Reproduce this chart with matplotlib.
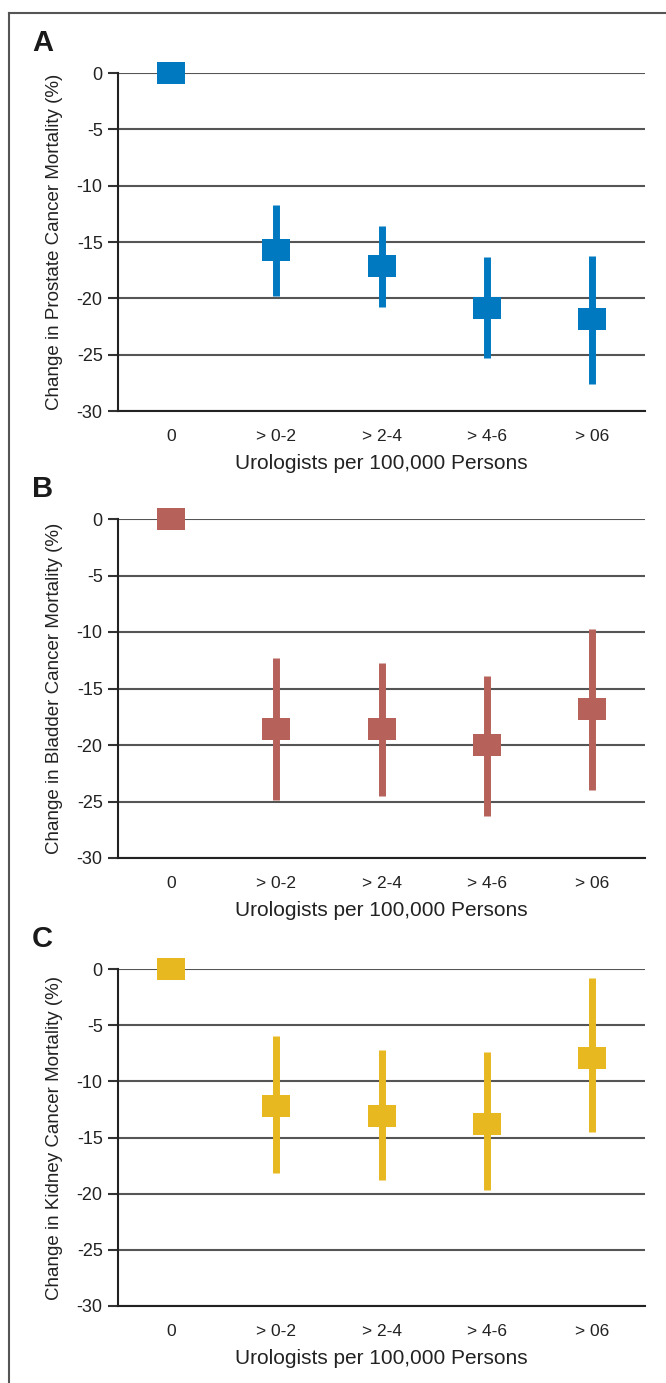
import numpy as np
import matplotlib
matplotlib.use('Agg')
import matplotlib.pyplot as plt
from matplotlib.lines import Line2D

plt.rcParams['font.family'] = ['Liberation Sans', 'DejaVu Sans']

# data
categories = ['0', '> 0-2', '> 2-4', '> 4-6', '> 06']

prostate_mean = [0, -15.75, -17.1, -20.9, -21.8]
prostate_lo = [0, -19.75, -20.8, -25.3, -27.6]
prostate_hi = [0, -11.7, -13.6, -16.3, -16.2]

bladder_mean = [0, -18.6, -18.6, -20.0, -16.85]
bladder_lo = [0, -24.9, -24.5, -26.3, -24.0]
bladder_hi = [0, -12.3, -12.7, -13.9, -9.7]

kidney_mean = [0, -12.2, -13.1, -13.8, -7.95]
kidney_lo = [0, -18.2, -18.75, -19.65, -14.5]
kidney_hi = [0, -6.0, -7.25, -7.4, -0.8]

panels = [
    ('A', 'Change in Prostate Cancer Mortality (%)', prostate_mean, prostate_lo, prostate_hi, '#0079C1'),
    ('B', 'Change in Bladder Cancer Mortality (%)', bladder_mean, bladder_lo, bladder_hi, '#B6625B'),
    ('C', 'Change in Kidney Cancer Mortality (%)', kidney_mean, kidney_lo, kidney_hi, '#E8B820'),
]

W, H = 666, 1383
fig = plt.figure(figsize=(W / 100, H / 100), dpi=100)

# axes pixel extents (0 line at top, -30 at bottom)
tops = [73, 519, 969]
bottoms = [411, 858, 1306]
left, right = 118, 645

rect = [(-1.33, -1), (1.33, -1), (1.33, 1), (-1.33, 1), (-1.33, -1)]
x = np.arange(len(categories))

for (letter, ylabel, mean, lo, hi, color), t, b in zip(panels, tops, bottoms):
    ax = fig.add_axes([left / W, 1 - b / H, (right - left) / W, (b - t) / H])
    ax.set_xlim(-0.5, len(categories) - 0.5)
    ax.set_ylim(-30, 0)
    ax.set_yticks(np.arange(-30, 1, 5))
    ax.set_yticklabels([str(v) for v in np.arange(-30, 1, 5)])
    ax.yaxis.grid(True, color='#555555', linewidth=1.5)
    ax.set_axisbelow(True)
    for s in ['top', 'right']:
        ax.spines[s].set_visible(False)
    for s in ['left', 'bottom']:
        ax.spines[s].set_linewidth(1.5)
        ax.spines[s].set_color('#222222')
    ax.tick_params(axis='y', length=7, width=1.5, color='#333333', labelsize=13, pad=4, labelcolor='#222222')
    ax.tick_params(axis='x', length=0, labelsize=12.5, pad=13, labelcolor='#222222')
    ax.set_xticks(x)
    ax.set_xticklabels(categories)

    # whiskers
    for xi, l, h in zip(x, lo, hi):
        if h != l:
            ax.vlines(xi, l, h, color=color, linewidth=5, capstyle='butt', zorder=3)
    ax.plot(x, mean, linestyle='none', marker=rect, markersize=20.2,
            markerfacecolor=color, markeredgewidth=0, clip_on=False, zorder=4)

    ax.set_xlabel('Urologists per 100,000 Persons', fontsize=15, color='#222222', labelpad=7)
    ax.set_ylabel(ylabel, fontsize=13.5, color='#222222', labelpad=10)
    fig.text(32 / W, 1 - (t - 30) / H, letter, fontsize=21, fontweight='bold',
             color='#1a1a1a', va='center', ha='left')

# frame around the figure (top and left edges)
fig.add_artist(Line2D([9 / W, 9 / W], [1 - 13 / H, 0], transform=fig.transFigure,
                      color='#555555', linewidth=1.5))
fig.add_artist(Line2D([9 / W, 1], [1 - 13 / H, 1 - 13 / H], transform=fig.transFigure,
                      color='#555555', linewidth=1.5))

fig.savefig('out.png', dpi=100)
